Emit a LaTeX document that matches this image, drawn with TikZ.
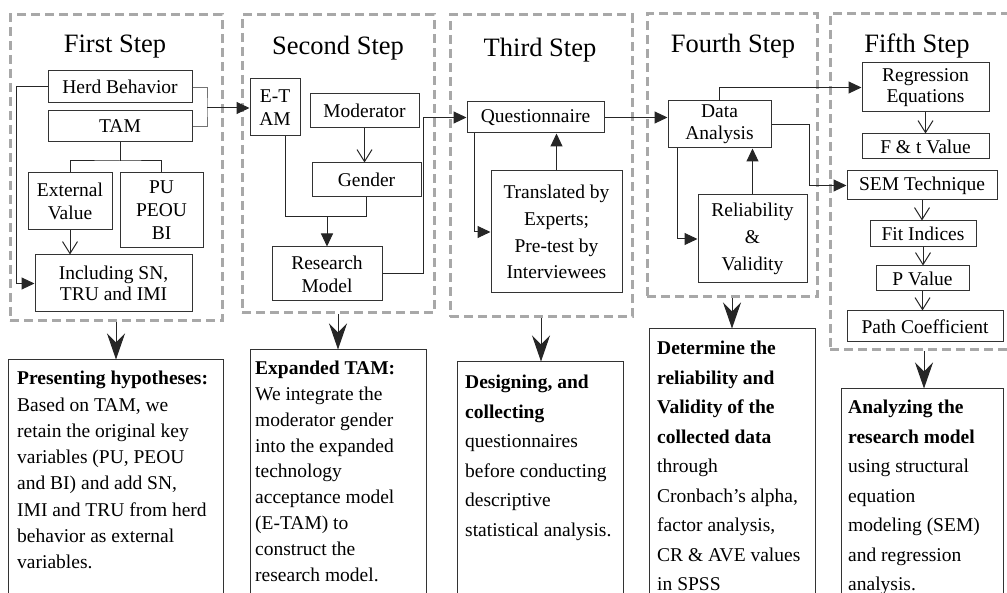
\documentclass[tikz,border=0pt]{standalone}
\usepackage{fontspec}
\setmainfont{Liberation Serif}
\usetikzlibrary{arrows.meta}
\definecolor{framegray}{RGB}{168,168,168}
\begin{document}
\begin{tikzpicture}[x=1pt,y=-1pt,
 box/.style={draw=black!80, line width=1pt, inner sep=0pt, align=center, font=\fontsize{19.5}{23}\selectfont},
 frame/.style={draw=framegray, line width=3pt, dash pattern=on 9pt off 5pt, inner sep=0pt},
 title/.style={font=\fontsize{26.5}{30}\selectfont, anchor=base, inner sep=0pt},
 conn/.style={draw=black!85, line width=1pt},
 tri/.style={conn, -{Triangle[length=13pt,width=12pt]}},
 openarr/.style={conn, -{Straight Barb[length=12pt,width=15pt]}},
 bigarr/.style={conn, -{Stealth[length=26pt,width=18pt,inset=9pt]}},
 note/.style={draw=black!80, line width=1pt, inner sep=0pt},
 notetext/.style={anchor=north west, inner sep=0pt, align=left},
]
\useasboundingbox (0,0) rectangle (1007,593);
\clip (0,0) rectangle (1007,593);

% frames
\node[frame, minimum width=212pt, minimum height=306pt] (f1) at (116,168) {};
\node[frame, minimum width=192pt, minimum height=298pt] (f2) at (338,164) {};
\node[frame, minimum width=182pt, minimum height=302pt] (f3) at (541,166) {};
\node[frame, minimum width=170pt, minimum height=283pt] (f4) at (732,155.5) {};
\node[frame, minimum width=188pt, minimum height=336pt] (f5) at (924,182) {};

% titles
\node[title] (t1) at (115,53) {First Step};
\node[title] (t2) at (338,55) {Second Step};
\node[title] (t3) at (540,57) {Third Step};
\node[title] (t4) at (733,53) {Fourth Step};
\node[title] (t5) at (917,53) {Fifth Step};

% step 1
\node[box, minimum width=144pt, minimum height=32pt] (herd) at (120,87) {Herd Behavior};
\node[box, minimum width=144pt, minimum height=31pt] (tam) at (120,126.5) {TAM};
\node[box, minimum width=84pt, minimum height=57pt] (ext) at (70,201.5) {External\\Value};
\node[box, minimum width=83pt, minimum height=75pt] (pu) at (161.5,210.5) {PU\\PEOU\\BI};
\node[box, minimum width=157pt, minimum height=57pt, font=\fontsize{19.5}{21}\selectfont] (incl) at (113.5,283.5) {Including SN,\\TRU and IMI};

% step 2
\node[box, minimum width=50pt, minimum height=57pt] (etam) at (275,107.5) {E-T\\AM};
\node[box, minimum width=109pt, minimum height=34pt] (moder) at (364.5,111) {Moderator};
\node[box, minimum width=109pt, minimum height=34pt] (gender) at (366.5,180) {Gender};
\node[box, minimum width=110pt, minimum height=54pt] (resmod) at (327,274) {Research\\Model};

% step 3
\node[box, minimum width=137pt, minimum height=31pt] (quest) at (535.5,117.5) {Questionnaire};
\node[box, minimum width=131pt, minimum height=122pt, font=\fontsize{19.5}{26.7}\selectfont] (trans) at (556.5,232) {Translated by\\Experts;\\Pre-test by\\Interviewees};

% step 4
\node[box, minimum width=103pt, minimum height=47pt, font=\fontsize{19.5}{22}\selectfont] (data) at (719.5,124.5) {Data\\Analysis};
\node[box, minimum width=109pt, minimum height=88pt, font=\fontsize{19.5}{26.7}\selectfont] (rel) at (752.5,239) {Reliability\\\&\\Validity};

% step 5
\node[box, minimum width=127pt, minimum height=49pt, font=\fontsize{19.5}{20.5}\selectfont] (regr) at (925.5,87.5) {Regression\\Equations};
\node[box, minimum width=127pt, minimum height=25pt] (ft) at (925.5,146.5) {F \& t Value};
\node[box, minimum width=150pt, minimum height=29pt] (sem) at (922,185.5) {SEM Technique};
\node[box, minimum width=106pt, minimum height=26pt] (fit) at (923,234) {Fit Indices};
\node[box, minimum width=93pt, minimum height=25pt] (pval) at (922.5,278.5) {P Value};
\node[box, minimum width=156pt, minimum height=31pt] (path) at (925,326.5) {Path Coefficient};

% bottom notes
\node[note, minimum width=215pt, minimum height=250pt] (n1) at (115.5,485) {};
\node[note, minimum width=176pt, minimum height=260pt] (n2) at (338,480) {};
\node[note, minimum width=166pt, minimum height=248pt] (n3) at (540,486) {};
\node[note, minimum width=166pt, minimum height=281pt] (n4) at (732,469.5) {};
\node[note, minimum width=162pt, minimum height=221pt] (n5) at (922,499.5) {};

\node[notetext, font=\fontsize{19.5}{26.3}\selectfont] (n1t) at (17,371) {\textbf{Presenting hypotheses:}\\Based on TAM, we\\retain the original key\\variables (PU, PEOU\\and BI) and add SN,\\IMI and TRU from herd\\behavior as external\\variables.};
\node[notetext, font=\fontsize{19.5}{25.8}\selectfont] (n2t) at (255,361) {\textbf{Expanded TAM:}\\We integrate the\\moderator gender\\into the expanded\\technology\\acceptance model\\(E-TAM) to\\construct the\\research model.};
\node[notetext, font=\fontsize{19.5}{29.5}\selectfont] (n3t) at (465,375) {\textbf{Designing, and}\\\textbf{collecting}\\questionnaires\\before conducting\\descriptive\\statistical analysis.};
\node[notetext, font=\fontsize{19.5}{29.5}\selectfont] (n4t) at (657,341) {\textbf{Determine the}\\\textbf{reliability and}\\\textbf{Validity of the}\\\textbf{collected data}\\through\\Cronbach’s alpha,\\factor analysis,\\CR \& AVE values\\in SPSS};
\node[notetext, font=\fontsize{19.5}{29.5}\selectfont] (n5t) at (848,400) {\textbf{Analyzing the}\\\textbf{research model}\\using structural\\equation\\modeling (SEM)\\and regression\\analysis.};

% connectors step 1
\coordinate (brk) at (207,108);
\draw[draw=black!55, line width=0.8pt] (herd.east) -| (brk) |- (tam.east);
\draw[tri] (brk) -- (brk -| etam.west);
\coordinate (tj) at (120,161);
\draw[conn] (tam.south) -- (tj);
\draw[conn] (ext.north) |- (tj) -| (pu.north);
\draw[openarr] (ext.south) -- (ext.south |- incl.north);
\draw[tri] (herd.west) -- ++(-31,0) |- (incl.west);

% step 2
\draw[openarr] (moder.south) -- (moder.south |- gender.north);
\coordinate (j2) at (327,217);
\draw[conn] ([xshift=10pt]etam.south) |- (gender.south |- j2) -- (gender.south);
\draw[tri] (j2) -- (resmod.north);
\coordinate (c2) at (423,0);
\draw[tri] (resmod.east) -| (c2 |- quest.west) -- (quest.west);

% step 3
\draw[tri] (quest.east) -- (quest.east -| data.west);
\draw[tri] ([xshift=8pt]quest.south west) |- (trans.west);
\draw[tri] (trans.north) -- (trans.north |- quest.south);

% step 4
\draw[tri] (data.north) |- (regr.west);
\draw[tri] (data.east) -- ++(38,0) |- (sem.west);
\draw[tri] ([xshift=10pt]data.south west) |- (rel.west);
\draw[tri] (rel.north) -- (rel.north |- data.south);

% step 5
\draw[openarr] (regr.south) -- (regr.south |- ft.north);
\draw[openarr] (sem.south) -- (sem.south |- fit.north);
\draw[openarr] (fit.south) -- (fit.south |- pval.north);
\draw[openarr] (pval.south) -- (pval.south |- path.north);

% frames to notes
\draw[bigarr] (f1.south) -- (f1.south |- n1.north);
\draw[bigarr] (f2.south) -- (f2.south |- n2.north);
\draw[bigarr] (f3.south) -- (f3.south |- n3.north);
\draw[bigarr] (f4.south) -- (f4.south |- n4.north);
\draw[bigarr] (f5.south) -- (f5.south |- n5.north);
\end{tikzpicture}
\end{document}
